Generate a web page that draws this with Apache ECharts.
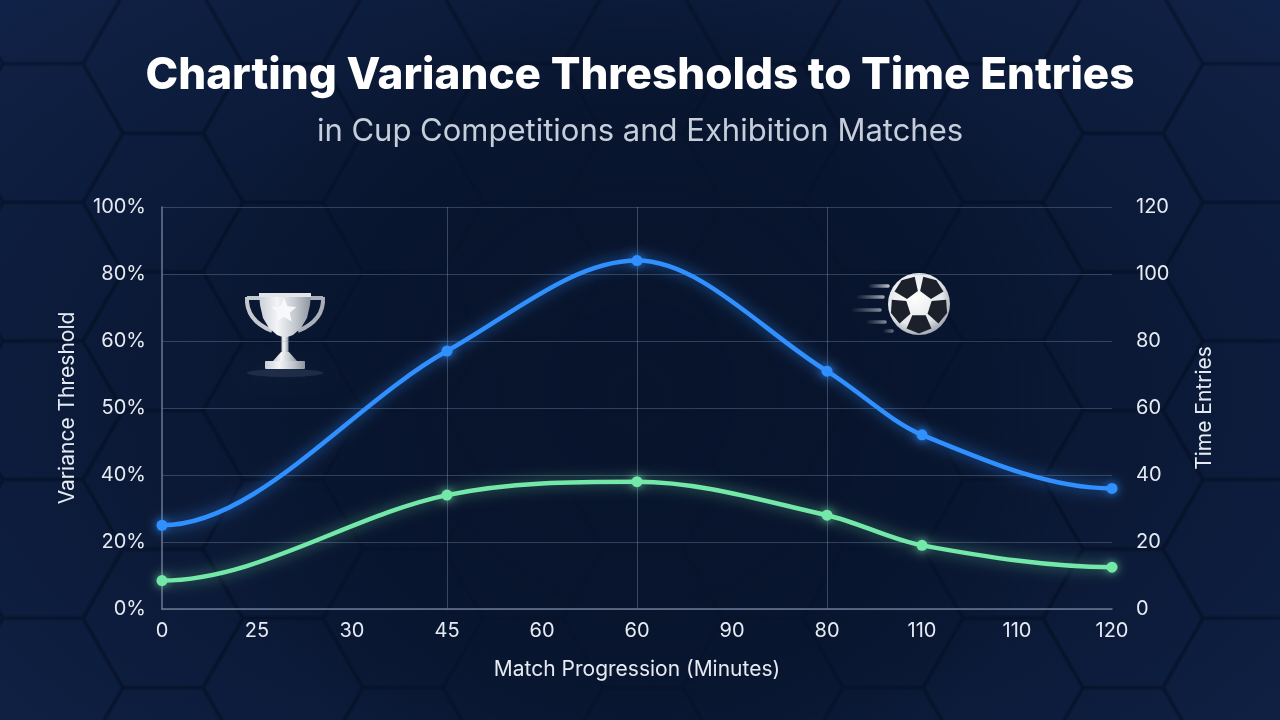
<!DOCTYPE html>
<html>
<head>
<meta charset="utf-8">
<title>Charting Variance Thresholds to Time Entries</title>
<script src="https://cdn.jsdelivr.net/npm/echarts@6/dist/echarts.min.js"></script>
<style>
  html, body { margin: 0; padding: 0; }
  body {
    width: 1280px; height: 720px; overflow: hidden;
    background: radial-gradient(ellipse at 50% 55%, #08142d 0%, #0a1834 55%, #0f2146 100%);
  }
  #main { width: 1280px; height: 720px; }
</style>
</head>
<body>
<div id="main"></div>
<script>
// x categories exactly as labelled on the axis
const minutes = ['0', '25', '30', '45', '60', '60', '90', '80', '110', '110', '120']
// left axis tick labels (uneven on purpose, as in the picture)
const leftTicks = ['0%', '20%', '40%', '50%', '60%', '80%', '100%']
// values, null where the curve has no marker
const varianceThreshold = [25, null, null, 77, null, 104, null, 71, 52, null, 36]
const timeEntries = [8.5, null, null, 34, null, 38, null, 28, 19, null, 12.5]
// categories that get a vertical guide line
const verticalGuides = [3, 5, 7]

const BLUE = '#3090ff'
const GREEN = '#74e8a9'
const FONT = 'Inter, "Noto Sans", sans-serif'

// [index, value] pairs of the marked points
function toPoints(arr) {
  const pts = []
  arr.forEach(function (v, i) {
    if (v !== null) pts.push([i, v])
  })
  return pts
}
const variancePoints = toPoints(varianceThreshold)
const entryPoints = toPoints(timeEntries)

// smooth curve: one cubic segment per point, flat at the ends and at peaks
function curveRenderer(pts, color, glow) {
  return function (params, api) {
    const k = params.dataIndex
    if (k >= pts.length - 1) return null
    const P = pts.map(function (p) { return api.coord(p) })
    const last = P.length - 1
    const slope = function (j) {
      if (j === 0 || j === last) return 0
      const a = (P[j][1] - P[j - 1][1]) / (P[j][0] - P[j - 1][0])
      const b = (P[j + 1][1] - P[j][1]) / (P[j + 1][0] - P[j][0])
      if (a * b <= 0) return 0
      return (P[j + 1][1] - P[j - 1][1]) / (P[j + 1][0] - P[j - 1][0])
    }
    const dx = P[k + 1][0] - P[k][0]
    return {
      type: 'bezierCurve',
      shape: {
        x1: P[k][0], y1: P[k][1],
        cpx1: P[k][0] + dx / 3, cpy1: P[k][1] + slope(k) * dx / 3,
        cpx2: P[k + 1][0] - dx / 3, cpy2: P[k + 1][1] - slope(k + 1) * dx / 3,
        x2: P[k + 1][0], y2: P[k + 1][1]
      },
      style: {
        fill: 'none', stroke: color, lineWidth: 4.5, lineCap: 'round',
        shadowBlur: 14, shadowColor: glow
      }
    }
  }
}

// 背景六边形
function hexPoints(cx, cy, r) {
  const pts = []
  for (let i = 0; i < 6; i++) {
    const a = Math.PI / 3 * i
    pts.push([cx + r * Math.cos(a), cy + r * Math.sin(a)])
  }
  return pts
}
const hexes = []
for (let c = -1; c < 13; c++) {
  const x = 43 + 120 * c
  const y0 = (c % 2 === 0) ? -5.6 : 64
  for (let j = -1; j < 7; j++) {
    hexes.push({
      type: 'polygon',
      z: -10,
      silent: true,
      shape: { points: hexPoints(x, y0 + 138.6 * j, 79) },
      style: { fill: 'rgba(30,55,100,0.05)', stroke: 'rgba(4,11,26,0.26)', lineWidth: 3 }
    })
  }
}
// 中间压暗
const vignette = {
  type: 'rect', z: -9, silent: true,
  shape: { x: 0, y: 0, width: 1280, height: 720 },
  style: {
    fill: {
      type: 'radial', x: 0.5, y: 0.55, r: 0.62,
      colorStops: [
        { offset: 0, color: 'rgba(8,20,44,0.97)' },
        { offset: 0.55, color: 'rgba(8,20,44,0.8)' },
        { offset: 1, color: 'rgba(8,20,44,0)' }
      ]
    }
  }
}

// 奖杯
function starPoints(cx, cy, R, r) {
  const pts = []
  for (let i = 0; i < 10; i++) {
    const a = -Math.PI / 2 + Math.PI / 5 * i
    const rad = i % 2 === 0 ? R : r
    pts.push([cx + rad * Math.cos(a), cy + rad * Math.sin(a)])
  }
  return pts
}
const silver = {
  type: 'linear', x: 0, y: 0, x2: 1, y2: 0,
  colorStops: [
    { offset: 0, color: '#c9ced6' },
    { offset: 0.35, color: '#f3f4f6' },
    { offset: 0.7, color: '#c3c8cf' },
    { offset: 1, color: '#8d949e' }
  ]
}
const trophy = {
  type: 'group', x: 285, y: 293, z: 5, silent: true,
  children: [
    { type: 'ellipse', shape: { cx: 0, cy: 80, rx: 38, ry: 4 },
      style: { fill: 'rgba(175,190,215,0.12)', shadowBlur: 16, shadowColor: 'rgba(175,190,215,0.3)' } },
    { type: 'polyline', shape: { points: [[-25, 5], [-38, 5]] },
      style: { stroke: '#c4c9d0', lineWidth: 4 } },
    { type: 'bezierCurve', shape: { x1: -38, y1: 4, cpx1: -39, cpy1: 20, cpx2: -30, cpy2: 31, x2: -13, y2: 38 },
      style: { fill: null, stroke: '#c4c9d0', lineWidth: 4 } },
    { type: 'polyline', shape: { points: [[25, 5], [38, 5]] },
      style: { stroke: '#a9afb8', lineWidth: 4 } },
    { type: 'bezierCurve', shape: { x1: 38, y1: 4, cpx1: 39, cpy1: 20, cpx2: 30, cpy2: 31, x2: 13, y2: 38 },
      style: { fill: null, stroke: '#a9afb8', lineWidth: 4 } },
    { type: 'polygon',
      shape: { points: [[-26, 0], [26, 0], [25, 12], [22, 25], [16, 35], [8, 42], [0, 45], [-8, 42], [-16, 35], [-22, 25], [-25, 12]] },
      style: { fill: silver } },
    { type: 'rect', shape: { x: -26, y: 0, width: 52, height: 4 }, style: { fill: '#e2e5e9' } },
    { type: 'polygon', shape: { points: starPoints(-1, 18, 13, 6) }, style: { fill: '#f7f8fa' } },
    { type: 'rect', shape: { x: -3.5, y: 44, width: 7, height: 17 }, style: { fill: silver } },
    { type: 'polygon', shape: { points: [[-4, 59], [4, 59], [12, 68], [-12, 68]] }, style: { fill: silver } },
    { type: 'rect', shape: { x: -20, y: 68, width: 40, height: 8, r: 1 }, style: { fill: silver } }
  ]
}

// 足球
function patch(phi) {
  const pts = []
  const d = Math.PI / 180
  pts.push([13 * Math.cos((phi - 31) * d), 13 * Math.sin((phi - 31) * d)])
  pts.push([13 * Math.cos((phi + 31) * d), 13 * Math.sin((phi + 31) * d)])
  pts.push([27.5 * Math.cos((phi + 27) * d), 27.5 * Math.sin((phi + 27) * d)])
  pts.push([29.5 * Math.cos(phi * d), 29.5 * Math.sin(phi * d)])
  pts.push([27.5 * Math.cos((phi - 27) * d), 27.5 * Math.sin((phi - 27) * d)])
  return pts
}
const ballParts = [
  { type: 'circle', shape: { cx: 0, cy: 0, r: 31 },
    style: {
      fill: {
        type: 'radial', x: 0.42, y: 0.38, r: 0.65,
        colorStops: [{ offset: 0, color: '#ffffff' }, { offset: 0.7, color: '#e3e6ea' }, { offset: 1, color: '#9da3ad' }]
      }
    } }
]
for (let k = 0; k < 5; k++) {
  ballParts.push({ type: 'polygon', shape: { points: patch(-54 + 72 * k) }, style: { fill: '#1b202a' } })
}
const streaks = [
  [-49, -18, -31, -18, 0.9],
  [-61, -7, -36, -7, 0.75],
  [-66, 6, -39, 6, 0.6],
  [-51, 18, -34, 18, 0.6],
  [-34, 27, -27, 27, 0.5]
]
streaks.forEach(function (s) {
  ballParts.push({
    type: 'line', shape: { x1: s[0], y1: s[1], x2: s[2], y2: s[3] },
    style: {
      lineWidth: 3.5, lineCap: 'round',
      stroke: {
        type: 'linear', x: 0, y: 0, x2: 1, y2: 0,
        colorStops: [{ offset: 0, color: 'rgba(200,205,215,0)' }, { offset: 1, color: 'rgba(225,228,235,' + s[4] + ')' }]
      }
    }
  })
})
const ball = { type: 'group', x: 919, y: 304, z: 5, silent: true, children: ballParts }

const myChart = echarts.init(document.getElementById('main'))
const option = {
  backgroundColor: 'transparent',
  animation: false,
  title: [
    {
      text: 'Charting Variance Thresholds to Time Entries',
      left: 'center', top: 54, padding: 0,
      textStyle: { color: '#ffffff', fontFamily: FONT, fontWeight: 800, fontSize: 44 }
    },
    {
      text: 'in Cup Competitions and Exhibition Matches',
      left: 'center', top: 116, padding: 0,
      textStyle: { color: '#c6cedb', fontFamily: FONT, fontWeight: 400, fontSize: 31 }
    }
  ],
  graphic: hexes.concat([vignette, trophy, ball]),
  grid: { left: 162, right: 168, top: 207, bottom: 111 },
  xAxis: {
    type: 'category',
    data: minutes,
    boundaryGap: false,
    name: 'Match Progression (Minutes)',
    nameLocation: 'middle',
    nameGap: 50,
    nameTextStyle: { color: '#e6ebf3', fontFamily: FONT, fontSize: 21 },
    axisLine: { lineStyle: { color: '#6c7892', width: 1.5 } },
    axisTick: { show: false },
    axisLabel: { interval: 0, margin: 12, color: '#e6ebf3', fontFamily: FONT, fontSize: 20 },
    splitLine: {
      show: true,
      interval: function (index) { return verticalGuides.indexOf(index) >= 0 },
      lineStyle: { color: 'rgba(150,165,195,0.35)', width: 1 }
    }
  },
  yAxis: [
    {
      type: 'value', min: 0, max: 120, interval: 20,
      name: 'Variance Threshold',
      nameLocation: 'middle', nameGap: 84, nameRotate: 90,
      nameTextStyle: { color: '#e6ebf3', fontFamily: FONT, fontSize: 21 },
      axisLine: { show: true, lineStyle: { color: '#6c7892', width: 1.5 } },
      axisTick: { show: false },
      axisLabel: {
        margin: 16, color: '#e6ebf3', fontFamily: FONT, fontSize: 20,
        formatter: function (v) { return leftTicks[Math.round(v / 20)] }
      },
      splitLine: { lineStyle: { color: 'rgba(150,165,195,0.3)', width: 1 } }
    },
    {
      type: 'value', min: 0, max: 120, interval: 20,
      name: 'Time Entries',
      nameLocation: 'middle', nameGap: 82, nameRotate: 90,
      nameTextStyle: { color: '#e6ebf3', fontFamily: FONT, fontSize: 21 },
      axisLine: { show: false },
      axisTick: { show: false },
      axisLabel: { margin: 24, color: '#e6ebf3', fontFamily: FONT, fontSize: 20 },
      splitLine: { show: false }
    }
  ],
  series: [
    {
      name: 'Variance Threshold',
      type: 'custom',
      yAxisIndex: 0,
      data: variancePoints,
      encode: { x: 0, y: 1 },
      z: 4,
      renderItem: curveRenderer(variancePoints, BLUE, 'rgba(48,144,255,0.75)')
    },
    {
      name: 'Time Entries',
      type: 'custom',
      yAxisIndex: 1,
      data: entryPoints,
      encode: { x: 0, y: 1 },
      z: 3,
      renderItem: curveRenderer(entryPoints, GREEN, 'rgba(116,232,169,0.6)')
    },
    {
      name: 'Variance Threshold',
      type: 'scatter',
      yAxisIndex: 0,
      data: variancePoints,
      symbolSize: 11,
      z: 6,
      itemStyle: { color: BLUE, opacity: 1, shadowBlur: 8, shadowColor: 'rgba(48,144,255,0.8)' }
    },
    {
      name: 'Time Entries',
      type: 'scatter',
      yAxisIndex: 1,
      data: entryPoints,
      symbolSize: 11,
      z: 5,
      itemStyle: { color: GREEN, opacity: 1, shadowBlur: 8, shadowColor: 'rgba(116,232,169,0.7)' }
    }
  ]
}
myChart.setOption(option)

window.onresize = function () {
  myChart.resize()
}
</script>
</body>
</html>
